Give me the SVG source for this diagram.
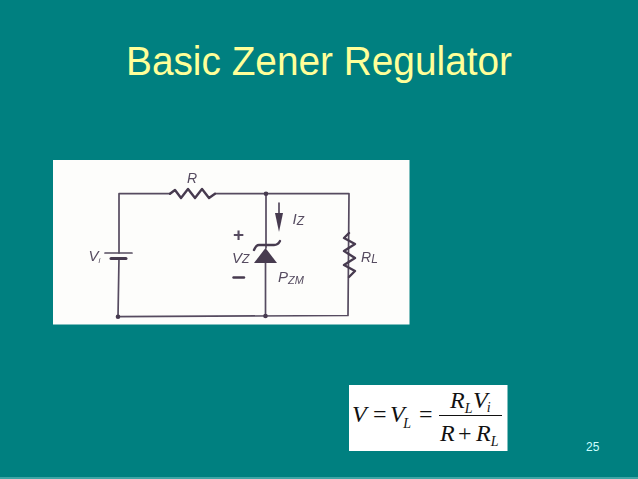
<svg xmlns="http://www.w3.org/2000/svg" width="638" height="479" viewBox="0 0 638 479">
<defs>
<filter id="scan" x="-5%" y="-5%" width="110%" height="110%"><feGaussianBlur stdDeviation="0.5"/></filter>
</defs>
<style>
.w{fill:none;stroke:#564c60;stroke-width:1.7;stroke-linejoin:round;stroke-linecap:round}
.r{fill:none;stroke:#473a50;stroke-width:2.4;stroke-linejoin:round;stroke-linecap:round}
.l{font-family:"Liberation Sans",Arial,sans-serif;font-style:italic;fill:#564c60}
.s{font-family:"Liberation Sans",Arial,sans-serif;fill:#564c60}
.m{font-family:"Liberation Serif","Times New Roman",serif;fill:#111;font-size:24px}
.n{font-size:14px}
.i{font-style:italic}
</style>
<rect id="background" width="638" height="479" fill="#008080"/>
<rect x="0" y="477" width="638" height="2" fill="#3fa5a5"/>
<text id="title" x="126" y="74.500" font-family="Liberation Sans,Arial,sans-serif" font-size="40" fill="#ffff99" textLength="386" lengthAdjust="spacingAndGlyphs">Basic Zener Regulator</text>
<rect id="circuit-panel" x="53" y="160" width="356.500" height="164.500" fill="#fdfdfb"/>
<g filter="url(#scan)">
<g id="connectors">
<path class="w" d="M170 193.700H119V253"/>
<path class="w" d="M119 258L118 317"/>
<path class="w" d="M118 316.700L348 315.500L349 193.700H215"/>
<path class="w" d="M266 193.700V248"/>
<path class="w" d="M265.500 263V316"/>
</g>
<g id="resistor-R">
<path class="r" d="M170 193.700L175 190L181 198L188 189L195 198L202 189L209 198L215 193.700"/>
<text class="l" x="187" y="183" font-size="14">R</text>
</g>
<g id="battery">
<path class="w" d="M105 253H132"/>
<path class="r" d="M111 258.500H126" style="stroke-width:3"/>
<text class="l" x="88.500" y="261" font-size="15">V<tspan font-size="8" dy="2">i</tspan></text>
</g>
<g id="zener">
<path d="M265.500 248L254 263H277Z" fill="#473a50"/>
<path class="r" d="M254 250Q256 245 259 245H274Q278 245 280 241"/>
<text class="s" x="233" y="240.500" font-size="19" font-weight="bold">+</text>
<text class="l" x="232" y="263" font-size="15">V<tspan font-size="12" dy="0">Z</tspan></text>
<path class="r" d="M233.500 277.500H244"/>
<text class="l" x="278" y="282" font-size="15">P<tspan font-size="11" dy="2">ZM</tspan></text>
</g>
<g id="current-Iz">
<path class="w" d="M279 203V220"/>
<path d="M275 213H283L279 232Z" fill="#473a50"/>
<text class="l" x="292.500" y="224" font-size="15">I<tspan font-size="12" dy="1">Z</tspan></text>
</g>
<g id="resistor-RL">
<path class="r" d="M349 233L344 238L355 244L344 251L355 258L344 265L355 271L349 277"/>
<text class="l" x="361" y="262" font-size="14">R<tspan font-size="12" dy="1">L</tspan></text>
</g>
<g id="junctions" fill="#473a50">
<circle cx="266" cy="193.700" r="2.300"/>
<circle cx="265.500" cy="316" r="2.300"/>
<circle cx="118" cy="316.700" r="2.300"/>
</g>
</g>
<g id="formula">
<rect x="349" y="385" width="158.500" height="66" fill="#fff"/>
<text class="m i" x="352" y="421.500">V</text>
<text class="m" x="373" y="421.500">=</text>
<text class="m i" x="390" y="421.500">V<tspan class="n" dx="-1.500" dy="6.500">L</tspan></text>
<text class="m" x="419" y="421.500">=</text>
<text class="m i" x="450" y="407.500">R<tspan class="n" dy="5.500">L</tspan><tspan x="473" dy="-5.500">V</tspan><tspan class="n" dx="-1" dy="4.500">i</tspan></text>
<path d="M439 415.500H502" stroke="#111" stroke-width="1"/>
<text class="m i" x="440" y="440.500">R</text>
<text class="m" x="458" y="440.500">+</text>
<text class="m i" x="476" y="440.500">R<tspan class="n" dy="5.500">L</tspan></text>
</g>
<text id="page-number" x="586" y="451" font-family="Liberation Sans,Arial,sans-serif" font-size="12" fill="#ccffff">25</text>
</svg>
